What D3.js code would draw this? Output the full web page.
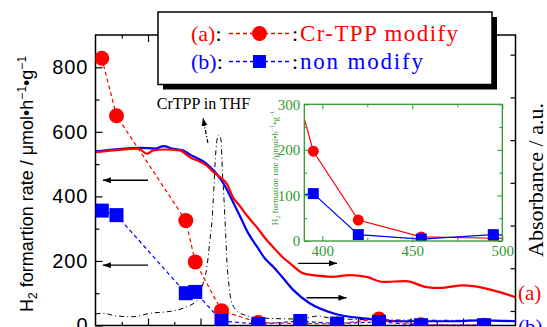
<!DOCTYPE html>
<html>
<head>
<meta charset="utf-8">
<script src="https://cdn.jsdelivr.net/npm/d3@7"></script>
<style>
  body { margin: 0; background: #fff; }
  svg { display: block; }
</style>
</head>
<body>
<svg id="chart" width="547" height="327"></svg>
<script>
// H2 formation rate vs cut-off wavelength, with absorption spectra behind it
var filterNm = [306, 320, 386, 395, 420, 455, 495, 530, 570, 610, 670]
var rateA = [828, 650, 325, 197, 46, 9, 6, 5, 20, 2, 1]      // Cr-TPP modify
var rateB = [356, 342, 100, 104, 14, 4, 14, 6, 11, 1, 1]     // non modify

// absorbance spectra (a), (b)
var specNmA = [300, 317, 341, 349, 355, 366, 380, 390, 406, 412, 419, 425, 431, 438, 444, 453, 463, 469, 479, 485, 498, 514, 526, 542, 558, 574, 596, 615, 628, 650, 660, 676, 685, 700]
var specAbsA = [1.86, 1.88, 1.90, 1.84, 1.88, 1.89, 1.88, 1.80, 1.70, 1.63, 1.56, 1.49, 1.33, 1.22, 1.12, 0.99, 0.83, 0.75, 0.62, 0.56, 0.44, 0.41, 0.40, 0.42, 0.40, 0.34, 0.35, 0.28, 0.27, 0.30, 0.29, 0.25, 0.22, 0.16]
var specNmB = [300, 317, 342, 357, 365, 373, 383, 390, 406, 412, 417, 422, 430, 438, 445, 454, 461, 469, 479, 488, 504, 527, 558, 590, 638, 666, 700]
var specAbsB = [1.87, 1.89, 1.91, 1.90, 1.93, 1.90, 1.88, 1.83, 1.72, 1.65, 1.58, 1.49, 1.30, 1.10, 0.92, 0.75, 0.62, 0.52, 0.38, 0.25, 0.09, -0.03, -0.09, -0.12, -0.12, -0.11, -0.12]
// CrTPP in THF
var specNmT = [300, 307, 320, 336, 352, 369, 378, 387, 397, 402, 406, 409, 411, 412.4, 413.8, 415.7, 417.6, 419.5, 420.8, 422.4, 423.8, 425.2, 427.1, 429, 434, 442, 457, 495, 512, 523, 552, 590, 700]
var specAbsT = [-0.035, -0.027, -0.059, -0.067, -0.027, -0.008, 0.011, 0.05, 0.128, 0.304, 0.503, 0.83, 1.065, 1.357, 1.709, 2.001, 2.06, 2.001, 1.65, 1.299, 0.948, 0.573, 0.304, 0.128, 0.011, -0.047, -0.082, -0.094, -0.059, -0.082, -0.1, -0.106, -0.111]

var rateMajor = [0, 200, 400, 600, 800]
var rateMinor = [100, 300, 500, 700]
var nmMajor = [350, 400, 450, 500, 550, 600, 650]
var nmMinor = [325, 375, 425, 475, 525, 575, 625, 675]
var absTicks = [0, 0.5, 1, 1.5, 2, 2.5, 3]
var insetXMajor = [400, 450, 500]
var insetXMinor = [425, 475]
var insetYMajor = [0, 100, 200, 300]
var insetYMinor = [50, 150, 250]

var RED = '#ff0000', BLUE = '#0000ff', GREEN = '#2f9a2f'

var svg = d3.select('#chart')

var x = d3.scaleLinear().domain([300, 700]).range([95.5, 515.5])
var y = d3.scaleLinear().domain([0, 900]).range([325.5, 35])
var yAbs = d3.scaleLinear().domain([-0.17, 3.23]).range([325.5, 35])

var defs = svg.append('defs')
defs.append('clipPath').attr('id', 'plotClip')
  .append('rect').attr('x', 95.5).attr('y', 35).attr('width', 420).attr('height', 290.5)
defs.append('marker').attr('id', 'head')
  .attr('markerUnits', 'userSpaceOnUse')
  .attr('markerWidth', 9).attr('markerHeight', 7)
  .attr('refX', 8).attr('refY', 3)
  .attr('orient', 'auto')
  .append('path').attr('d', 'M0,0 L8,3 L0,6 Z').attr('fill', '#000')

/** axes */
function noDomain(g) { g.select('.domain').remove() }

svg.append('g').attr('transform', 'translate(95.5,0)')
  .call(d3.axisLeft(y).tickValues(rateMinor).tickSizeInner(-4).tickSizeOuter(0).tickFormat(''))
  .call(noDomain)
svg.append('g').attr('class', 'left-axis').attr('transform', 'translate(95.5,0)')
  .call(d3.axisLeft(y).tickValues(rateMajor).tickSizeInner(-7).tickSizeOuter(0).tickPadding(7))
  .call(noDomain)
svg.selectAll('.left-axis text')
  .attr('font-family', 'Liberation Sans, Arial, sans-serif')
  .attr('font-size', 20).attr('letter-spacing', 1).attr('fill', '#000')

;[[325.5, d3.axisBottom], [35, d3.axisTop]].forEach(function (a) {
  svg.append('g').attr('transform', 'translate(0,' + a[0] + ')')
    .call(a[1](x).tickValues(nmMinor).tickSizeInner(-3.5).tickSizeOuter(0).tickFormat(''))
    .call(noDomain)
  svg.append('g').attr('transform', 'translate(0,' + a[0] + ')')
    .call(a[1](x).tickValues(nmMajor).tickSizeInner(-7).tickSizeOuter(0).tickFormat(''))
    .call(noDomain)
})

svg.append('g').attr('transform', 'translate(515.5,0)')
  .call(d3.axisRight(yAbs).tickValues(absTicks).tickSizeInner(-5).tickSizeOuter(0).tickFormat(''))
  .call(noDomain)

svg.selectAll('.tick line').attr('stroke', '#000').attr('stroke-width', 1.2)

svg.append('rect')
  .attr('x', 95.5).attr('y', 35).attr('width', 420).attr('height', 290.5)
  .attr('fill', 'none').attr('stroke', '#000').attr('stroke-width', 1.5)

/** axis titles */
var yTitle = svg.append('text')
  .attr('transform', 'translate(33,184) rotate(-90)')
  .attr('text-anchor', 'middle')
  .attr('font-family', 'Liberation Sans, Arial, sans-serif')
  .attr('font-size', 18)
  .attr('fill', '#000')
yTitle.append('tspan').text('H')
yTitle.append('tspan').attr('font-size', 12).attr('dy', 4).text('2')
yTitle.append('tspan').attr('dy', -4).text(' formartion rate  /  \u03bcmol\u2022h')
yTitle.append('tspan').attr('font-size', 12).attr('dy', -7).text('\u22121')
yTitle.append('tspan').attr('dy', 7).text('\u2022g')
yTitle.append('tspan').attr('font-size', 12).attr('dy', -7).text('\u22121')

svg.append('text')
  .attr('transform', 'translate(543,180) rotate(-90)')
  .attr('text-anchor', 'middle')
  .attr('font-family', 'Liberation Serif, Times New Roman, serif')
  .attr('font-size', 22)
  .attr('fill', '#000')
  .text('Absorbance / a.u.')

/** plot content */
var plot = svg.append('g').attr('clip-path', 'url(#plotClip)')

var specLine = d3.line().curve(d3.curveMonotoneX)
  .x(function (d) { return x(d[0]) })
  .y(function (d) { return yAbs(d[1]) })

plot.append('path')
  .datum(d3.zip(specNmT, specAbsT))
  .attr('d', specLine)
  .attr('fill', 'none').attr('stroke', '#000').attr('stroke-width', 1)
  .attr('stroke-dasharray', '5,3,1,3')

plot.append('path')
  .datum(d3.zip(specNmB, specAbsB))
  .attr('d', specLine)
  .attr('fill', 'none').attr('stroke', BLUE).attr('stroke-width', 2.2)

plot.append('path')
  .datum(d3.zip(specNmA, specAbsA))
  .attr('d', specLine)
  .attr('fill', 'none').attr('stroke', RED).attr('stroke-width', 2.2)

var rateLine = d3.line()
  .x(function (d) { return x(d[0]) })
  .y(function (d) { return y(d[1]) })

plot.append('path')
  .datum(d3.zip(filterNm, rateA))
  .attr('d', rateLine)
  .attr('fill', 'none').attr('stroke', RED).attr('stroke-width', 1.2)
  .attr('stroke-dasharray', '4,3')
plot.append('path')
  .datum(d3.zip(filterNm, rateB))
  .attr('d', rateLine)
  .attr('fill', 'none').attr('stroke', BLUE).attr('stroke-width', 1.2)
  .attr('stroke-dasharray', '4,3')

plot.selectAll('circle.ra')
  .data(d3.zip(filterNm, rateA))
  .enter().append('circle')
  .attr('class', 'ra')
  .attr('cx', function (d) { return x(d[0]) })
  .attr('cy', function (d) { return y(d[1]) })
  .attr('r', 7.5)
  .attr('fill', RED)

plot.selectAll('rect.rb')
  .data(d3.zip(filterNm, rateB))
  .enter().append('rect')
  .attr('class', 'rb')
  .attr('x', function (d) { return x(d[0]) - 7 })
  .attr('y', function (d) { return y(d[1]) - 7 })
  .attr('width', 14).attr('height', 14)
  .attr('fill', BLUE)

/** arrows: rate axis on the left, absorbance axis on the right */
function arrow(x1, y1, x2, y2, dash) {
  svg.append('line')
    .attr('x1', x1).attr('y1', y1).attr('x2', x2).attr('y2', y2)
    .attr('stroke', '#000').attr('stroke-width', 1.3)
    .attr('stroke-dasharray', dash || null)
    .attr('marker-end', 'url(#head)')
}
arrow(x(350), y(450), x(307), y(450))
arrow(x(350), y(187), x(307), y(187))
arrow(x(493), yAbs(0.558), x(530), yAbs(0.558))
arrow(x(501), yAbs(0.155), x(539), yAbs(0.155))
arrow(x(407), yAbs(1.966), x(402.4), yAbs(2.259), '4,2,1,2')

svg.append('text')
  .attr('x', x(358.3)).attr('y', yAbs(2.364))
  .attr('font-family', 'Liberation Serif, Times New Roman, serif')
  .attr('font-size', 16).attr('fill', '#000')
  .text('CrTPP in THF')

svg.append('text')
  .attr('x', 518).attr('y', 300)
  .attr('font-family', 'Liberation Serif, Times New Roman, serif')
  .attr('font-size', 21).attr('fill', RED)
  .text('(a)')
svg.append('text')
  .attr('x', 518).attr('y', 334)
  .attr('font-family', 'Liberation Serif, Times New Roman, serif')
  .attr('font-size', 21).attr('fill', BLUE)
  .text('(b)')

/** inset */
var inX = d3.scaleLinear().domain([390, 500]).range([304.3, 502.3])
var inY = d3.scaleLinear().domain([0, 300]).range([241, 104.3])

defs.append('clipPath').attr('id', 'insetClip')
  .append('rect').attr('x', 304.3).attr('y', 104.3).attr('width', 198).attr('height', 136.7)

var inset = svg.append('g').attr('class', 'inset')
inset.append('rect')
  .attr('x', 304.3).attr('y', 104.3).attr('width', 198).attr('height', 136.7)
  .attr('fill', '#fff')

var inPlot = inset.append('g').attr('clip-path', 'url(#insetClip)')
var inLine = d3.line()
  .x(function (d) { return inX(d[0]) })
  .y(function (d) { return inY(d[1]) })
inPlot.append('path').datum(d3.zip(filterNm, rateA)).attr('d', inLine)
  .attr('fill', 'none').attr('stroke', RED).attr('stroke-width', 1.2)
inPlot.append('path').datum(d3.zip(filterNm, rateB)).attr('d', inLine)
  .attr('fill', 'none').attr('stroke', BLUE).attr('stroke-width', 1.2)
inPlot.selectAll('circle')
  .data(d3.zip(filterNm, rateA))
  .enter().append('circle')
  .attr('cx', function (d) { return inX(d[0]) })
  .attr('cy', function (d) { return inY(d[1]) })
  .attr('r', 5.5).attr('fill', RED)
inPlot.selectAll('rect')
  .data(d3.zip(filterNm, rateB))
  .enter().append('rect')
  .attr('x', function (d) { return inX(d[0]) - 5.5 })
  .attr('y', function (d) { return inY(d[1]) - 5.5 })
  .attr('width', 11).attr('height', 11)
  .attr('fill', BLUE)

function greenAxis(tr, axis) {
  var g = inset.append('g').attr('transform', tr).call(axis).call(noDomain)
  g.selectAll('line').attr('stroke', GREEN)
  g.selectAll('text').attr('fill', GREEN)
    .attr('font-family', 'Liberation Serif, Times New Roman, serif').attr('font-size', 15)
  return g
}
greenAxis('translate(304.3,0)', d3.axisLeft(inY).tickValues(insetYMajor).tickSizeInner(-5).tickSizeOuter(0).tickPadding(4))
greenAxis('translate(304.3,0)', d3.axisLeft(inY).tickValues(insetYMinor).tickSizeInner(-3).tickSizeOuter(0).tickFormat(''))
greenAxis('translate(502.3,0)', d3.axisRight(inY).tickValues(insetYMajor).tickSizeInner(-5).tickSizeOuter(0).tickFormat(''))
greenAxis('translate(502.3,0)', d3.axisRight(inY).tickValues(insetYMinor).tickSizeInner(-3).tickSizeOuter(0).tickFormat(''))
greenAxis('translate(0,241)', d3.axisBottom(inX).tickValues(insetXMajor).tickSizeInner(-5).tickSizeOuter(0).tickPadding(4))
greenAxis('translate(0,241)', d3.axisBottom(inX).tickValues(insetXMinor).tickSizeInner(-3).tickSizeOuter(0).tickFormat(''))
greenAxis('translate(0,104.3)', d3.axisTop(inX).tickValues(insetXMajor).tickSizeInner(-5).tickSizeOuter(0).tickFormat(''))
greenAxis('translate(0,104.3)', d3.axisTop(inX).tickValues(insetXMinor).tickSizeInner(-3).tickSizeOuter(0).tickFormat(''))

inset.append('rect')
  .attr('x', 304.3).attr('y', 104.3).attr('width', 198).attr('height', 136.7)
  .attr('fill', 'none').attr('stroke', GREEN).attr('stroke-width', 1.3)

var inTitle = inset.append('text')
  .attr('transform', 'translate(278,168) rotate(-90)')
  .attr('text-anchor', 'middle')
  .attr('font-family', 'Liberation Serif, Times New Roman, serif')
  .attr('font-size', 9).attr('fill', GREEN)
inTitle.append('tspan').text('H')
inTitle.append('tspan').attr('font-size', 6).attr('dy', 2).text('2')
inTitle.append('tspan').attr('dy', -2).text(' formation rate /\u03bcmol\u2022h')
inTitle.append('tspan').attr('font-size', 6).attr('dy', -4).text('\u22121')
inTitle.append('tspan').attr('dy', 4).text('\u2022g')
inTitle.append('tspan').attr('font-size', 6).attr('dy', -4).text('\u22121')

/** legend */
var legend = svg.append('g').attr('class', 'legend')
legend.append('rect')
  .attr('x', 163).attr('y', 17).attr('width', 334).attr('height', 72.5).attr('fill', '#000')
legend.append('rect')
  .attr('x', 158).attr('y', 12).attr('width', 334).attr('height', 72.5)
  .attr('fill', '#fff').attr('stroke', '#000').attr('stroke-width', 1.5)

var legendRows = [
  { key: '(a)', name: 'Cr-TPP modify', color: RED, shape: 'circle', cy: 33.5, len: 158 },
  { key: '(b)', name: 'non modify', color: BLUE, shape: 'square', cy: 61.5, len: 123 }
]
legendRows.forEach(function (row) {
  var t = legend.append('text')
    .attr('x', 191).attr('y', row.cy + 7)
    .attr('font-family', 'Liberation Serif, Times New Roman, serif')
    .attr('font-size', 22)
  t.append('tspan').attr('fill', row.color).text(row.key)
  t.append('tspan').attr('fill', '#000').text(':')
  legend.append('line')
    .attr('x1', 229).attr('x2', 290).attr('y1', row.cy).attr('y2', row.cy)
    .attr('stroke', row.color).attr('stroke-width', 1.5).attr('stroke-dasharray', '4,3')
  if (row.shape === 'circle') {
    legend.append('circle').attr('cx', 259.5).attr('cy', row.cy).attr('r', 7.5).attr('fill', row.color)
  } else {
    legend.append('rect').attr('x', 253).attr('y', row.cy - 6.5).attr('width', 13).attr('height', 13).attr('fill', row.color)
  }
  legend.append('text')
    .attr('x', 292).attr('y', row.cy + 7)
    .attr('font-family', 'Liberation Serif, Times New Roman, serif')
    .attr('font-size', 22).attr('fill', '#000')
    .text(':')
  legend.append('text')
    .attr('x', 300).attr('y', row.cy + 7)
    .attr('font-family', 'Liberation Serif, Times New Roman, serif')
    .attr('font-size', 23).attr('fill', row.color)
    .attr('textLength', row.len).attr('lengthAdjust', 'spacing')
    .text(row.name)
})
</script>
</body>
</html>
